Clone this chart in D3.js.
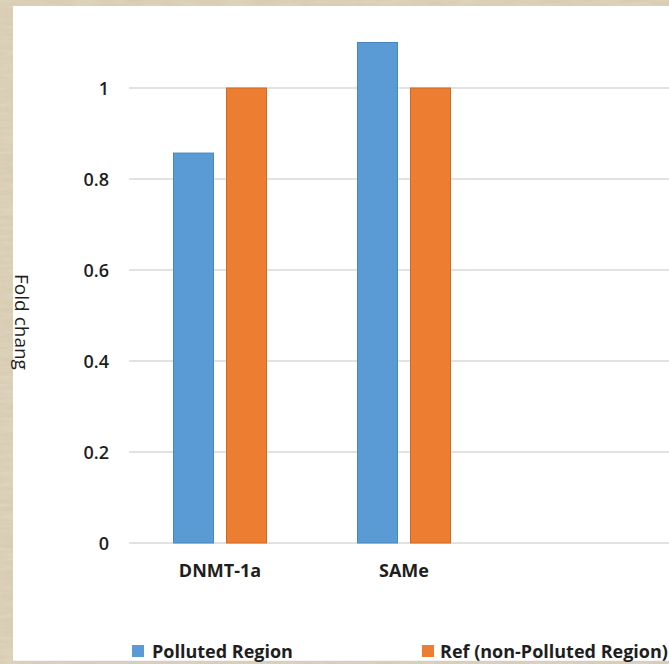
<!DOCTYPE html>
<html>
<head>
<meta charset="utf-8">
<script src="https://cdn.jsdelivr.net/npm/d3@7/dist/d3.min.js"></script>
<style>
  html, body { margin: 0; padding: 0; background: #d6cab0; }
  svg { display: block; }
  text { font-family: "Open Sans", "Liberation Sans", sans-serif; fill: #1e1e1e; }
</style>
</head>
<body>
<svg id="chart" width="669" height="664"></svg>
<script>
// Gene markers on the x axis
const categories = ["DNMT-1a", "SAMe"];
// Series shown side by side in each group
const seriesNames = ["Polluted Region", "Ref (non-Polluted Region)"];
const polluted = [0.857, 1.1];
const reference = [1.0, 1.0];
const yTicks = [0, 0.2, 0.4, 0.6, 0.8, 1];
const yTitle = "Fold chang";

const colors = ["#5b9bd5", "#ed7d31"];
const strokes = ["#4a85bb", "#cf6a26"];

const W = 669, H = 664;
const svg = d3.select("#chart");

// parchment border with a light grain
const defs = svg.append("defs");
const f = defs.append("filter").attr("id", "grain").attr("x", 0).attr("y", 0).attr("width", "100%").attr("height", "100%");
f.append("feTurbulence").attr("type", "fractalNoise").attr("baseFrequency", "0.04 0.25").attr("numOctaves", 3).attr("seed", 4).attr("result", "n");
f.append("feColorMatrix").attr("in", "n").attr("type", "matrix")
  .attr("values", "0 0 0 0 0.80  0 0 0 0 0.74  0 0 0 0 0.62  0.7 0 0 0 -0.05");
svg.append("rect").attr("width", W).attr("height", H).attr("fill", "#d6caae");
svg.append("rect").attr("width", W).attr("height", H).attr("filter", "url(#grain)").attr("opacity", 0.9);

// chart panel
svg.append("rect").attr("x", 13).attr("y", 6).attr("width", W - 13).attr("height", 655).attr("fill", "#ffffff");
svg.append("line").attr("x1", 13).attr("x2", W).attr("y1", 661.5).attr("y2", 661.5)
  .attr("stroke", "#cfcfcf").attr("stroke-width", 1.5);

const y = d3.scaleLinear().domain([0, 1]).range([543, 88]);
const x = d3.scaleBand().domain(categories).range([128, 496]).paddingInner(0).paddingOuter(0);
const xs = d3.scaleBand().domain(seriesNames).range([45, 139]).paddingInner(2 - 94 / 53);

// horizontal gridlines
svg.append("g").selectAll("line").data(yTicks).join("line")
  .attr("x1", 129).attr("x2", W)
  .attr("y1", d => y(d)).attr("y2", d => y(d))
  .attr("stroke", "#d9d9d9").attr("stroke-width", 1.5);

// y axis labels
const yAxis = d3.axisLeft(y).tickValues(yTicks).tickSize(0).tickPadding(0)
  .tickFormat(d => d3.format("")(+d.toFixed(1)));
const gy = svg.append("g").attr("transform", "translate(109,0)").call(yAxis);
gy.select(".domain").remove();
gy.selectAll("text").attr("font-size", 18).attr("font-weight", 600)
  .style("font-family", "'Open Sans', sans-serif").attr("fill", "#1e1e1e").attr("dy", "0.35em");

// bars
const rows = categories.map((c, i) => ({ c, vals: [polluted[i], reference[i]] }));
const groups = svg.append("g").selectAll("g").data(rows).join("g")
  .attr("transform", d => `translate(${x(d.c)},0)`);
groups.selectAll("rect").data(d => d.vals.map((v, k) => ({ v, k }))).join("rect")
  .attr("x", d => xs(seriesNames[d.k]) + 0.5)
  .attr("y", d => y(d.v))
  .attr("width", xs.bandwidth() - 1)
  .attr("height", d => y(0) - y(d.v))
  .attr("fill", d => colors[d.k])
  .attr("stroke", d => strokes[d.k]).attr("stroke-width", 1);

// category labels
const xAxis = d3.axisBottom(x).tickSize(0).tickPadding(0);
const gx = svg.append("g").attr("transform", "translate(0,571)").call(xAxis);
gx.select(".domain").remove();
gx.selectAll("text").attr("font-size", 18).attr("font-weight", 700)
  .style("font-family", "'Open Sans', sans-serif").attr("fill", "#1e1e1e").attr("dy", "0.35em");

// y axis title
svg.append("text")
  .attr("transform", "translate(15,322) rotate(90)")
  .attr("text-anchor", "middle")
  .attr("font-size", 19).attr("font-weight", 400)
  .text(yTitle);

// legend
const legendX = [132, 422];
const lg = svg.append("g").selectAll("g").data(seriesNames).join("g")
  .attr("transform", (d, i) => `translate(${legendX[i]},0)`);
lg.append("rect").attr("x", 0).attr("y", 645).attr("width", 12).attr("height", 12)
  .attr("fill", (d, i) => colors[i]);
lg.append("text").attr("x", (d, i) => i === 0 ? 20 : 18).attr("y", 658)
  .attr("font-size", 18).attr("font-weight", 700)
  .text(d => d);
</script>
</body>
</html>
